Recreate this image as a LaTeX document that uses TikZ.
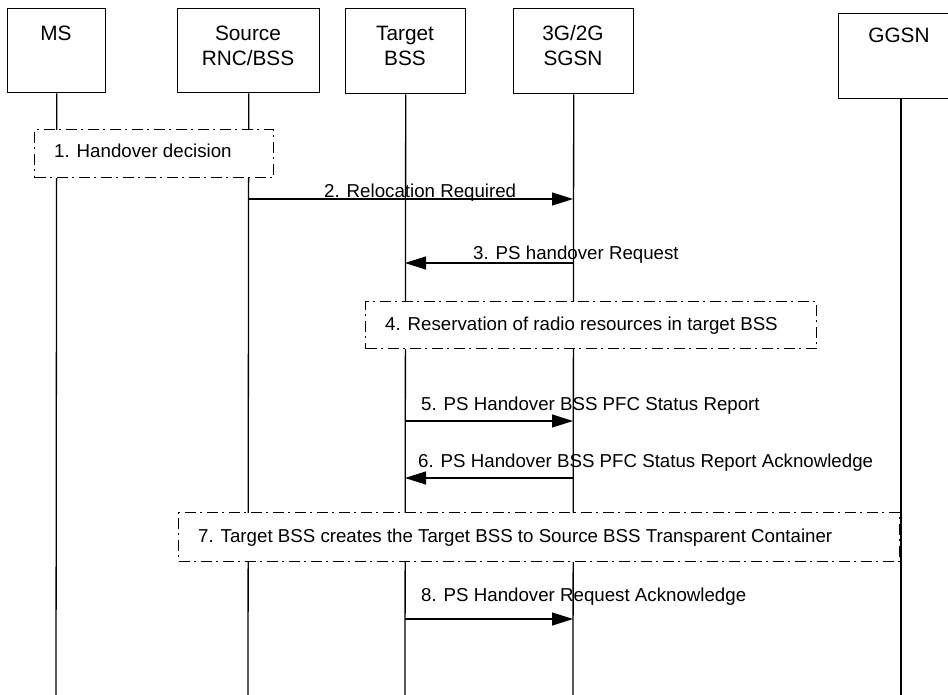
\documentclass[tikz,border=0pt]{standalone}
\usepackage{fontspec}
\setmainfont{Liberation Sans}
\usetikzlibrary{arrows.meta}
\begin{document}
\begin{tikzpicture}[x=1bp,y=-1bp,
  lifeline/.style={line width=1.3bp},
  entity/.style={draw, line width=1.4bp, fill=white, inner sep=0pt, anchor=north west},
  boxtxt/.style={anchor=base, inner sep=0pt, font=\fontsize{20.8bp}{25bp}\selectfont},
  steptxt/.style={anchor=base west, inner sep=0pt, font=\fontsize{18.7bp}{22bp}\selectfont},
  note/.style={draw, fill=white, line width=1.4bp, dash pattern=on 11bp off 4.5bp on 2bp off 4.5bp, inner sep=0pt, anchor=north west},
  msg/.style={line width=1.3bp, -{Triangle[length=21bp,width=13bp]}}
]
\useasboundingbox (0,0) rectangle (948,695);
\clip (0,0) rectangle (948,695);

% entities
\node[entity, minimum width=98bp, minimum height=84bp] (ms) at (7,8) {};
\node[entity, minimum width=142bp, minimum height=84bp] (src) at (177,8) {};
\node[entity, minimum width=120bp, minimum height=85bp] (tgt) at (345,8) {};
\node[entity, minimum width=120bp, minimum height=85bp] (sgsn) at (513,8) {};
\node[entity, minimum width=130bp, minimum height=85bp] (ggsn) at (838,13) {};

\node[boxtxt] (ms-t) at (56,40.5) {MS};
\node[boxtxt] (src-t) at (248,40.5) {Source};
\node[boxtxt] (src-b) at (248,66) {RNC/BSS};
\node[boxtxt] (tgt-t) at (405,40.5) {Target};
\node[boxtxt] (tgt-b) at (405,66) {BSS};
\node[boxtxt] (sgsn-t) at (573,40.5) {3G/2G};
\node[boxtxt] (sgsn-b) at (573,66) {SGSN};
\node[boxtxt] (ggsn-t) at (899,43) {GGSN};

% lifelines
\coordinate (ms-end) at (56,695);
\coordinate (src-end) at (248,695);
\coordinate (tgt-end) at (405,695);
\coordinate (sgsn-end) at (573,695);
\coordinate (ggsn-top) at (901,98);
\coordinate (ggsn-end) at (901,695);
\draw[lifeline] (ms.south) -- (ms-end);
\draw[lifeline] (src.south) -- (src-end);
\draw[lifeline] (tgt.south) -- (tgt-end);
\draw[lifeline] (sgsn.south) -- (sgsn-end);
\draw[lifeline] (ggsn-top) -- (ggsn-end);

% notes
\node[note, minimum width=239bp, minimum height=48bp] (n1) at (34,129) {};
\node[note, minimum width=451bp, minimum height=47bp] (n4) at (365,301) {};
\node[note, minimum width=721bp, minimum height=49bp] (n7) at (178,512) {};
\node[steptxt] (n1-t) at (54,158) {1. Handover decision};
\node[steptxt] (n4-t) at (385,330) {4. Reservation of radio resources in target BSS};
\node[steptxt] (n7-t) at (198,542) {7. Target BSS creates the Target BSS to Source BSS Transparent Container};

% messages
\coordinate (src-2) at (248,199);  \coordinate (sgsn-2) at (573,199);
\coordinate (sgsn-3) at (573,263); \coordinate (tgt-3) at (405,263);
\coordinate (tgt-5) at (405,421);  \coordinate (sgsn-5) at (573,421);
\coordinate (sgsn-6) at (573,478); \coordinate (tgt-6) at (405,478);
\coordinate (tgt-8) at (405,619);  \coordinate (sgsn-8) at (573,619);

\draw[msg] (src-2) -- (sgsn-2);
\draw[msg] (sgsn-3) -- (tgt-3);
\draw[msg] (tgt-5) -- (sgsn-5);
\draw[msg] (sgsn-6) -- (tgt-6);
\draw[msg] (tgt-8) -- (sgsn-8);

\node[steptxt] (m2) at (324,197) {2. Relocation Required};
\node[steptxt] (m3) at (473,259) {3. PS handover Request};
\node[steptxt] (m5) at (421,410) {5. PS Handover BSS PFC Status Report};
\node[steptxt] (m6) at (418,467) {6. PS Handover BSS PFC Status Report Acknowledge};
\node[steptxt] (m8) at (421,601) {8. PS Handover Request Acknowledge};
\end{tikzpicture}
\end{document}
